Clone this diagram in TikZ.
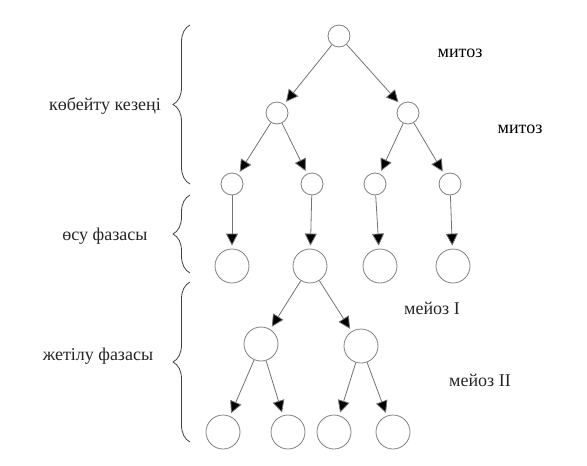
\documentclass[tikz,border=0pt]{standalone}
\usepackage{fontspec}
\setmainfont{Liberation Serif}
\usetikzlibrary{arrows.meta,decorations.pathreplacing}
\begin{document}
\begin{tikzpicture}[x=1pt,y=-1pt,
  cell/.style={circle,draw=black!50,line width=0.8pt,inner sep=0pt},
  small/.style={cell,minimum size=22pt},
  big/.style={cell,minimum size=34pt},
  arr/.style={draw=black!55,line width=0.8pt,-{Triangle[width=12pt,length=12pt,fill=black]},shorten >=3pt},
  lbl/.style={font=\fontsize{18}{21}\selectfont,text=black!85},
  mlbl/.style={font=\fontsize{18}{21}\selectfont,text=black},
  br/.style={draw=black!75,line width=0.8pt,decorate,decoration={brace,amplitude=17pt}}]
\useasboundingbox (0,0) rectangle (587,466);
% level 1
\node[small] (c1) at (339,36) {};
% level 2
\node[small] (c2a) at (277,113) {};
\node[small] (c2b) at (408,113) {};
% level 3
\node[small] (c3a) at (232,184) {};
\node[small] (c3b) at (312,184) {};
\node[small] (c3c) at (375,184) {};
\node[small] (c3d) at (450,184) {};
% level 4
\node[big] (c4a) at (232,266) {};
\node[big] (c4b) at (310,266) {};
\node[big] (c4c) at (380,266) {};
\node[big] (c4d) at (453,266) {};
% level 5
\node[big] (c5a) at (261,344) {};
\node[big] (c5b) at (361,346) {};
% level 6
\node[big] (c6a) at (223,432) {};
\node[big] (c6b) at (288,432) {};
\node[big] (c6c) at (334,432) {};
\node[big] (c6d) at (393,432) {};
% arrows
\draw[arr] (c1) -- (c2a);
\draw[arr] (c1) -- (c2b);
\draw[arr] (c2a) -- (c3a);
\draw[arr] (c2a) -- (c3b);
\draw[arr] (c2b) -- (c3c);
\draw[arr] (c2b) -- (c3d);
\draw[arr] (c3a) -- (c4a);
\draw[arr] (c3b) -- (c4b);
\draw[arr] (c3c) -- (c4c);
\draw[arr] (c3d) -- (c4d);
\draw[arr] (c4b) -- (c5a);
\draw[arr] (c4b) -- (c5b);
\draw[arr] (c5a) -- (c6a);
\draw[arr] (c5a) -- (c6b);
\draw[arr] (c5b) -- (c6c);
\draw[arr] (c5b) -- (c6d);
% labels right
\node[mlbl] (m1) at (460,53) {митоз};
\node[mlbl] (m2) at (520,129) {митоз};
\node[lbl] (m3) at (432,308) {мейоз I};
\node[lbl] (m4) at (480,380) {мейоз II};
% braces
\coordinate (b1s) at (190,184);
\coordinate (b1e) at (190,25);
\coordinate (b2s) at (190,273);
\coordinate (b2e) at (190,195);
\coordinate (b3s) at (190,442);
\coordinate (b3e) at (190,282);
\draw[br] (b1s) -- (b1e);
\draw[br] (b2s) -- (b2e);
\draw[br] (b3s) -- (b3e);
% labels left
\node[lbl] (l1) at (105,106) {көбейту кезеңі};
\node[lbl] (l2) at (105,236) {өсу фазасы};
\node[lbl] (l3) at (98,356) {жетілу фазасы};
\end{tikzpicture}
\end{document}
